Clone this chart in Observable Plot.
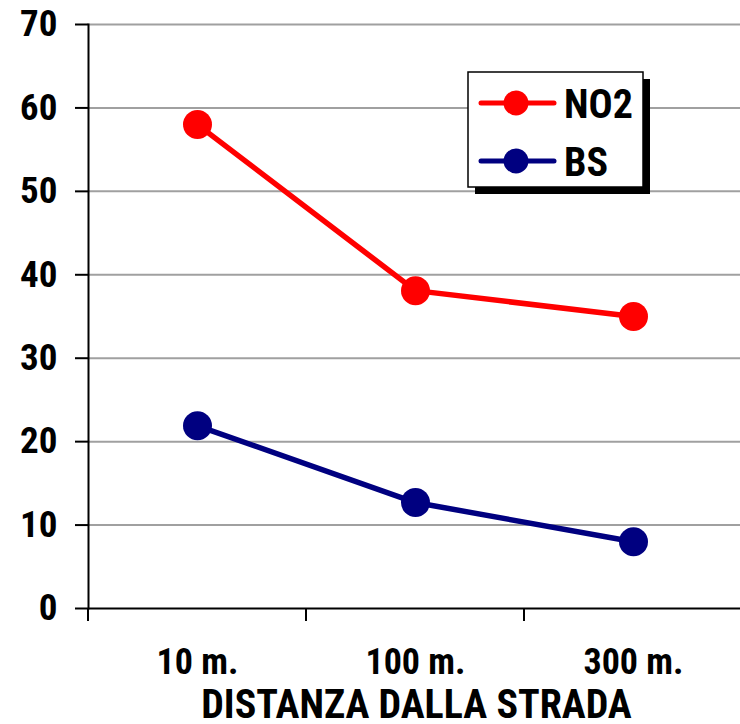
<!DOCTYPE html>
<html><head><meta charset="utf-8">
<script src="https://cdn.jsdelivr.net/npm/d3@7"></script>
<script src="https://cdn.jsdelivr.net/npm/@observablehq/plot@0.6"></script>
<style>
body{margin:0;background:#fff}
</style></head><body><div id="chart"></div>
<script>
const categories = ["10 m.", "100 m.", "300 m."];
const seriesNames = ["NO2", "BS"];
const no2Values = [58.0, 38.1, 35.0];
const bsValues = [21.9, 12.7, 8.0];
const seriesColors = ["#ff0000", "#000080"];
const yTicks = [0, 10, 20, 30, 40, 50, 60, 70];
const xTitle = "DISTANZA DALLA STRADA";

const data = [];
categories.forEach((c, i) => {
  data.push({cat: c, series: seriesNames[0], value: no2Values[i]});
  data.push({cat: c, series: seriesNames[1], value: bsValues[i]});
});

const FONT = '"Roboto Condensed","Roboto",sans-serif';

function bandEdgeTicks(index, scales) {
  const g = d3.create("svg:g");
  const x = scales.x, y = scales.y;
  const y0 = y(0);
  categories.forEach(c => {
    g.append("line").attr("x1", x(c)).attr("x2", x(c))
      .attr("y1", y0).attr("y2", y0 + 13).attr("stroke", "#000").attr("stroke-width", 2);
  });
  return g.node();
}

function legendMark(index, scales) {
  const g = d3.create("svg:g");
  const bx = 468, by = 72, bw = 175, bh = 115;
  g.append("rect").attr("x", bx + 7).attr("y", by + 7).attr("width", bw).attr("height", bh).attr("fill", "#000");
  g.append("rect").attr("x", bx).attr("y", by).attr("width", bw).attr("height", bh)
    .attr("fill", "#fff").attr("stroke", "#000").attr("stroke-width", 1.5);
  seriesNames.forEach((name, i) => {
    const cy = by + 31 + i * 58;
    g.append("line").attr("x1", 481).attr("x2", 554).attr("y1", cy).attr("y2", cy)
      .attr("stroke", seriesColors[i]).attr("stroke-width", 5).attr("stroke-linecap", "round");
    g.append("circle").attr("cx", 516).attr("cy", cy).attr("r", 12.5).attr("fill", seriesColors[i]);
    g.append("text").attr("x", 564).attr("y", cy + 1).attr("dy", "0.36em")
      .attr("text-anchor", "start")
      .attr("font-size", 40).attr("font-family", FONT).attr("font-weight", "bold").attr("fill", "#000").text(name);
  });
  return g.node();
}

const chart = Plot.plot({
  width: 740,
  height: 724,
  marginLeft: 88,
  marginRight: 0,
  marginTop: 24,
  marginBottom: 116,
  style: {fontFamily: FONT, fontWeight: "bold", background: "#fff", color: "#000", overflow: "visible"},
  x: {type: "band", domain: categories, range: [88, 742], padding: 0},
  y: {domain: [0, 70], range: [608, 24]},
  color: {domain: seriesNames, range: seriesColors},
  marks: [
    Plot.ruleY(yTicks.filter(d => d > 0), {y: d => d, stroke: "#a0a0a0", strokeWidth: 2, strokeOpacity: 1}),
    Plot.axisY({ticks: yTicks, tickSize: 13, tickPadding: 18, fontSize: 37, tickFormat: d => String(d), label: null, strokeWidth: 2, strokeOpacity: 1}),
    Plot.axisX({tickSize: 0, tickPadding: 40, fontSize: 36, label: null}),
    Plot.text([xTitle], {frameAnchor: "bottom", dx: 2, dy: 97, fontSize: 40, fill: "#000", lineAnchor: "middle"}),
    Plot.frame({anchor: "left", stroke: "#000", strokeWidth: 2}),
    Plot.ruleY([0], {stroke: "#000", strokeWidth: 2}),
    bandEdgeTicks,
    Plot.line(data, {x: "cat", y: "value", z: "series", stroke: "series", strokeWidth: 5.5}),
    Plot.dot(data, {x: "cat", y: "value", fill: "series", r: 14.5, stroke: null}),
    legendMark
  ]
});
document.getElementById("chart").appendChild(chart);
</script>
</body></html>
